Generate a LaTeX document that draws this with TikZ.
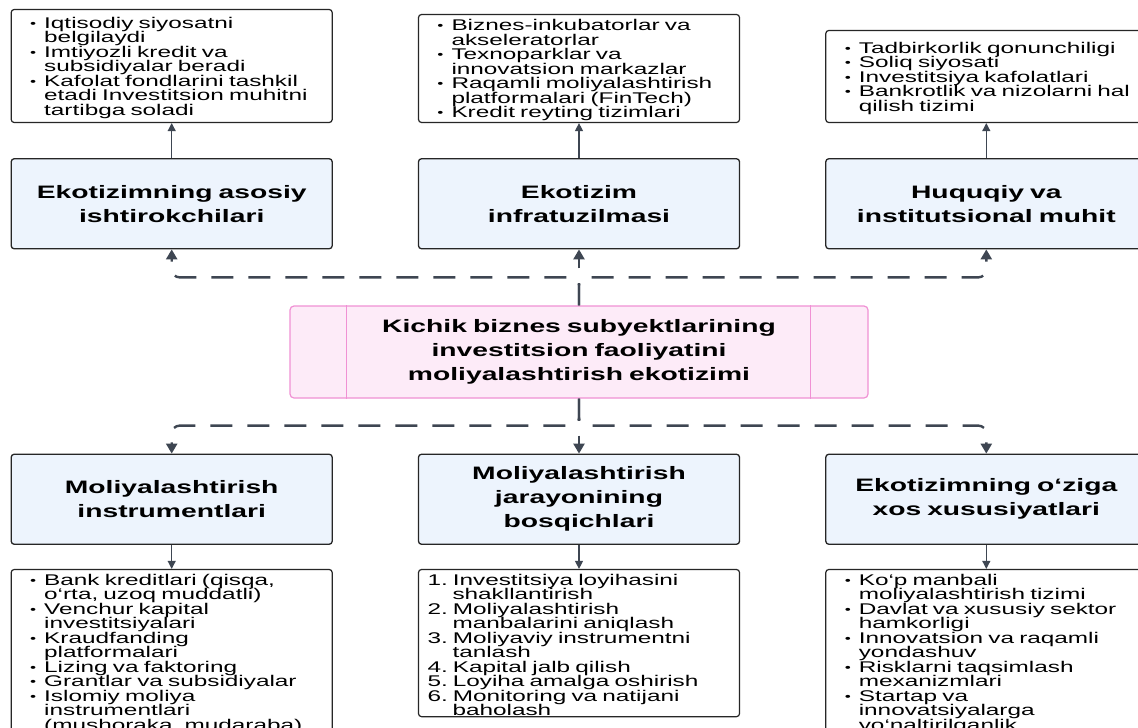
\documentclass[tikz,border=0pt]{standalone}
\usepackage{fontspec}
\setmainfont{Liberation Sans}[FakeStretch=1.57]
\usepackage{enumitem}
\usetikzlibrary{arrows.meta,positioning}
\definecolor{cbox}{RGB}{237,244,253}
\definecolor{croot}{RGB}{253,235,248}
\definecolor{crootline}{RGB}{240,145,212}
\definecolor{clink}{RGB}{62,70,82}
\setlength{\lineskiplimit}{-20pt}
\setlength{\normallineskiplimit}{-20pt}
\setlist{nosep,before={\setlength{\lineskiplimit}{-20pt}\setlength{\baselineskip}{14.5pt}}}
\setlist[itemize]{leftmargin=21pt,labelsep=8pt,label={\raisebox{1pt}{\fontsize{11}{11}\selectfont\textbullet}}}
\setlist[enumerate]{leftmargin=22pt,labelsep=5pt,labelwidth=20pt,align=left}
\tikzset{
	partbox/.style={
		rectangle, minimum width=321pt, minimum height=90pt, rounded corners=3pt,
		line width=1.3pt, draw=black!85, fill=cbox,
		text width=290pt, align=center, font=\fontsize{18}{24}\selectfont\bfseries
	},
	%
	rootbox/.style={
		rectangle, minimum width=578pt, minimum height=92pt, rounded corners=4pt,
		line width=1.2pt, draw=crootline, fill=croot,
		text width=440pt, align=center, font=\fontsize{18}{24}\selectfont\bfseries
	},
	%
	listbox/.style={
		rectangle, rounded corners=3pt, line width=1.2pt, draw=black!85, fill=white,
		text width=297pt, inner xsep=12pt, inner ysep=1pt, align=left,
		font=\fontsize{15.5}{14.5}\selectfont
	},
	%
	dashlink/.style={
		draw=clink, line width=2.4pt, dash pattern=on 22pt off 15pt, rounded corners=8pt,
		-{Triangle[length=10pt,width=11pt]}
	},
	%
	thinlink/.style={
		draw=clink, line width=1.1pt, -{Triangle[length=8pt,width=8pt]}
	}
}

\begin{document}
\begin{tikzpicture}[x=1pt,y=-1pt]
    \useasboundingbox (0,0) rectangle (1138,728);
    \fill[white] (0,0) rectangle (1138,728);
    \clip (0,0) rectangle (1138,728);
    \node(root)[rootbox] at (579,352) {Kichik biznes subyektlarining\\ investitsion faoliyatini\\ moliyalashtirish ekotizimi};
    \draw[crootline, line width=1.2pt] ([xshift=57pt]root.north west) -- ([xshift=57pt]root.south west);
    \draw[crootline, line width=1.2pt] ([xshift=-58pt]root.north east) -- ([xshift=-58pt]root.south east);
    % upper row
    \node(part2)[partbox, above=56pt of root]{Ekotizim\\ infratuzilmasi};
    \node(part1)[partbox, left=85pt of part2]{Ekotizimning asosiy\\ ishtirokchilari};
    \node(part3)[partbox, right=85pt of part2]{Huquqiy va\\ institutsional muhit};
    \node(list1)[listbox, above=35pt of part1, minimum height=113pt]{
    \begin{itemize}
        \item Iqtisodiy siyosatni\newline belgilaydi
        \item Imtiyozli kredit va\newline subsidiyalar beradi
        \item Kafolat fondlarini tashkil\newline etadi Investitsion muhitni\newline tartibga soladi
    \end{itemize}
    };
    \node(list2)[listbox, above=35pt of part2, minimum height=108pt]{
    \begin{itemize}
        \item Biznes-inkubatorlar va\newline akseleratorlar
        \item Texnoparklar va\newline innovatsion markazlar
        \item Raqamli moliyalashtirish\newline platformalari (FinTech)
        \item Kredit reyting tizimlari
    \end{itemize}
    };
    \node(list3)[listbox, above=35pt of part3, minimum height=92pt]{
    \begin{itemize}
        \item Tadbirkorlik qonunchiligi
        \item Soliq siyosati
        \item Investitsiya kafolatlari
        \item Bankrotlik va nizolarni hal\newline qilish tizimi
    \end{itemize}
    };
    % lower row
    \node(part5)[partbox, below=55pt of root]{Moliyalashtirish\\ jarayonining\\ bosqichlari};
    \node(part4)[partbox, left=85pt of part5]{Moliyalashtirish\\ instrumentlari};
    \node(part6)[partbox, right=85pt of part5]{Ekotizimning o‘ziga\\ xos xususiyatlari};
    \node(list4)[listbox, below=24pt of part4]{
    \begin{itemize}
        \item Bank kreditlari (qisqa,\newline o‘rta, uzoq muddatli)
        \item Venchur kapital\newline investitsiyalari
        \item Kraudfanding\newline platformalari
        \item Lizing va faktoring
        \item Grantlar va subsidiyalar
        \item Islomiy moliya\newline instrumentlari\newline (mushoraka, mudaraba)
    \end{itemize}
    };
    \node(list5)[listbox, below=24pt of part5]{
    \begin{enumerate}
        \item Investitsiya loyihasini\newline shakllantirish
        \item Moliyalashtirish\newline manbalarini aniqlash
        \item Moliyaviy instrumentni\newline tanlash
        \item Kapital jalb qilish
        \item Loyiha amalga oshirish
        \item Monitoring va natijani\newline baholash
    \end{enumerate}
    };
    \node(list6)[listbox, below=24pt of part6]{
    \begin{itemize}
        \item Ko‘p manbali\newline moliyalashtirish tizimi
        \item Davlat va xususiy sektor\newline hamkorligi
        \item Innovatsion va raqamli\newline yondashuv
        \item Risklarni taqsimlash\newline mexanizmlari
        \item Startap va\newline innovatsiyalarga\newline yo‘naltirilganlik
    \end{itemize}
    };
    % connectors
    \coordinate(uphub) at ([yshift=28pt]root.north);
    \coordinate(downhub) at ([yshift=-27pt]root.south);
    \draw[dashlink] (root.north) -- (uphub) -| (part1.south);
    \draw[dashlink] (root.north) -- (part2.south);
    \draw[dashlink] (root.north) -- (uphub) -| (part3.south);
    \draw[dashlink] (root.south) -- (downhub) -| (part4.north);
    \draw[dashlink] (root.south) -- (part5.north);
    \draw[dashlink] (root.south) -- (downhub) -| (part6.north);
    \draw[thinlink] (part1) -- (list1);
    \draw[thinlink] (part2) -- (list2);
    \draw[thinlink] (part3) -- (list3);
    \draw[thinlink] (part4) -- (list4);
    \draw[thinlink] (part5) -- (list5);
    \draw[thinlink] (part6) -- (list6);
\end{tikzpicture}
\end{document}
